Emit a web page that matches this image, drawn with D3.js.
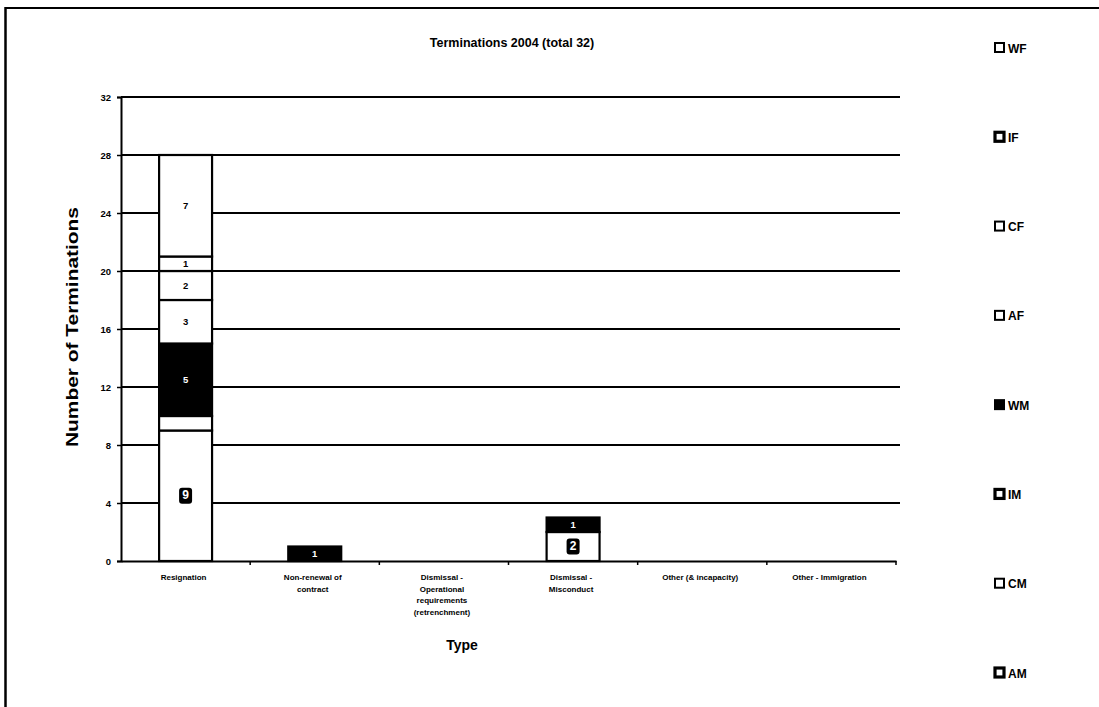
<!DOCTYPE html>
<html>
<head>
<meta charset="utf-8">
<script src="https://cdn.jsdelivr.net/npm/d3@7/dist/d3.min.js"></script>
<style>
  html, body { margin: 0; padding: 0; background: #fff; }
  svg { display: block; font-family: "Liberation Sans", Arial, sans-serif; }
</style>
</head>
<body>
<svg id="chart" width="1099" height="707"></svg>
<script>
// Termination categories (wrapped lines for the axis labels)
const categories = [
  "Resignation",
  "Non-renewal of contract",
  "Dismissal - Operational requirements (retrenchment)",
  "Dismissal - Misconduct",
  "Other (& incapacity)",
  "Other - Immigration"
];
const categoryLines = [
  ["Resignation"],
  ["Non-renewal of", "contract"],
  ["Dismissal -", "Operational", "requirements", "(retrenchment)"],
  ["Dismissal -", "Misconduct"],
  ["Other (& incapacity)"],
  ["Other - Immigration"]
];

// Series in stacking order, bottom to top
const seriesKeys = ["AM", "CM", "IM", "WM", "AF", "CF", "IF", "WF"];
const AM = [9, 0, 0, 2, 0, 0];
const CM = [1, 0, 0, 0, 0, 0];
const IM = [0, 0, 0, 0, 0, 0];
const WM = [5, 1, 0, 1, 0, 0];
const AF = [3, 0, 0, 0, 0, 0];
const CF = [2, 0, 0, 0, 0, 0];
const IF = [1, 0, 0, 0, 0, 0];
const WF = [7, 0, 0, 0, 0, 0];
const seriesValues = { AM, CM, IM, WM, AF, CF, IF, WF };

const yTicks = [0, 4, 8, 12, 16, 20, 24, 28, 32];
const legendOrder = ["WF", "IF", "CF", "AF", "WM", "IM", "CM", "AM"];

const title = "Terminations 2004 (total 32)";
const yTitle = "Number of Terminations";
const xTitle = "Type";

// Visual styling per series
const fillOf = k => (k === "WM" ? "#000" : "#fff");
const labelStyle = k => k === "WM" ? "inverse" : (k === "AM" ? "boxed" : (k === "CM" ? "none" : "plain"));
const markerStroke = k => (k === "IF" || k === "IM" || k === "AM") ? 3.2 : 2;

const rows = categories.map((c, i) => {
  const r = { category: c };
  seriesKeys.forEach(k => r[k] = seriesValues[k][i]);
  return r;
});

const svg = d3.select("#chart");
const plot = { left: 121, right: 896, top: 97, bottom: 561 };

// Frame around the chart
svg.append("line").attr("x1", 5).attr("x2", 1099).attr("y1", 8).attr("y2", 8)
  .attr("stroke", "#000").attr("stroke-width", 2);
svg.append("line").attr("x1", 5.5).attr("x2", 5.5).attr("y1", 7).attr("y2", 707)
  .attr("stroke", "#000").attr("stroke-width", 2.5);

const x = d3.scaleBand().domain(categories).range([plot.left, plot.right]).paddingInner(0).paddingOuter(0);
const y = d3.scaleLinear().domain([0, 32]).range([plot.bottom, plot.top]);
const barW = x.bandwidth() * 0.41;

// Horizontal gridlines
svg.append("g").selectAll("line").data(yTicks.filter(t => t > 0)).join("line")
  .attr("x1", plot.left).attr("x2", plot.right + 4)
  .attr("y1", d => y(d)).attr("y2", d => y(d))
  .attr("stroke", "#000").attr("stroke-width", 1.8);

// Y axis
const yAxis = svg.append("g").attr("transform", `translate(${plot.left},0)`)
  .call(d3.axisLeft(y).tickValues(yTicks).tickSize(4).tickPadding(6));
yAxis.select(".domain").attr("stroke-width", 2);
yAxis.selectAll(".tick line").attr("stroke-width", 1.5);
yAxis.selectAll("text").attr("font-size", 9.5).attr("font-weight", "bold").attr("fill", "#000")
  .attr("font-family", "Liberation Sans, Arial, sans-serif");

// X axis
const xAxis = svg.append("g").attr("transform", `translate(0,${plot.bottom})`)
  .call(d3.axisBottom(x).tickSize(0).tickFormat(""));
xAxis.select(".domain").attr("stroke-width", 2);
svg.append("g").selectAll("line").data(categories).join("line")
  .attr("x1", d => x(d) + x.bandwidth())
  .attr("x2", d => x(d) + x.bandwidth())
  .attr("y1", plot.bottom).attr("y2", plot.bottom + 4)
  .attr("stroke", "#000").attr("stroke-width", 1.5);

// Category labels
const catG = svg.append("g");
categoryLines.forEach((lines, i) => {
  const cx = x(categories[i]) + x.bandwidth() / 2 - 2;
  const t = catG.append("text")
    .attr("x", cx).attr("y", plot.bottom + 19)
    .attr("text-anchor", "middle")
    .attr("font-size", 8).attr("font-weight", "bold");
  lines.forEach((ln, j) => t.append("tspan")
    .attr("x", cx).attr("dy", j === 0 ? 0 : 11.5).text(ln));
});

// Stacked bars
const stacked = d3.stack().keys(seriesKeys)(rows);
const barG = svg.append("g");
stacked.forEach(layer => {
  const k = layer.key;
  layer.forEach((seg, i) => {
    const v = seg[1] - seg[0];
    if (v <= 0) return;
    const cx = x(categories[i]) + x.bandwidth() / 2;
    const y0 = y(seg[0]), y1 = y(seg[1]);
    barG.append("rect")
      .attr("x", cx - barW / 2).attr("y", y1)
      .attr("width", barW).attr("height", y0 - y1)
      .attr("fill", fillOf(k)).attr("stroke", "#000").attr("stroke-width", 2.2);
    const style = labelStyle(k);
    if (style === "none") return;
    const cy = (y0 + y1) / 2;
    if (style === "boxed") {
      barG.append("rect").attr("x", cx - 6.5).attr("y", cy - 8)
        .attr("width", 13).attr("height", 16).attr("rx", 3)
        .attr("fill", "#000");
    }
    barG.append("text")
      .attr("x", cx).attr("y", cy + 3.5)
      .attr("text-anchor", "middle")
      .attr("font-size", style === "boxed" ? 12 : 9.5).attr("font-weight", "bold")
      .attr("fill", style === "plain" ? "#000" : "#fff")
      .text(v);
  });
});

// Titles
svg.append("text").attr("x", 512).attr("y", 47).attr("text-anchor", "middle")
  .attr("font-size", 12.5).attr("font-weight", "bold").text(title);
svg.append("text").attr("transform", `translate(78,${(plot.top + plot.bottom) / 2 - 2}) rotate(-90)`)
  .attr("text-anchor", "middle").attr("font-size", 17).attr("font-weight", "bold")
  .attr("textLength", 240).attr("lengthAdjust", "spacingAndGlyphs").text(yTitle);
svg.append("text").attr("x", 462).attr("y", 650).attr("text-anchor", "middle")
  .attr("font-size", 14).attr("font-weight", "bold").text(xTitle);

// Legend
const legY = d3.scalePoint().domain(legendOrder).range([48, 673]);
const leg = svg.append("g").selectAll("g").data(legendOrder).join("g")
  .attr("transform", d => `translate(995,${legY(d)})`);
leg.append("rect").attr("x", 0).attr("y", -5).attr("width", 9).attr("height", 9)
  .attr("fill", fillOf).attr("stroke", "#000").attr("stroke-width", markerStroke);
leg.append("text").attr("x", 13).attr("y", 4.5)
  .attr("font-size", 12).attr("font-weight", "bold").text(d => d);
</script>
</body>
</html>
